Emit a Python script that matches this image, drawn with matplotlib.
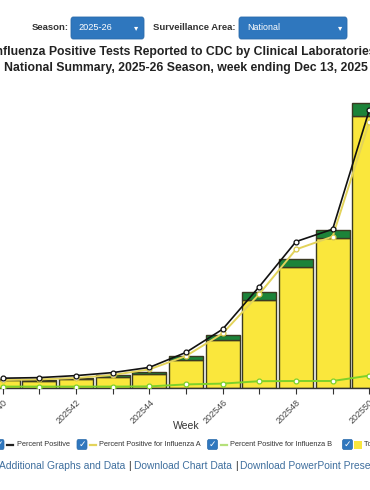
import matplotlib
matplotlib.use("Agg")
import matplotlib.pyplot as plt
from matplotlib.patches import FancyBboxPatch, Rectangle
from matplotlib.lines import Line2D

# ---------------- data ----------------
weeks = [40, 41, 42, 43, 44, 45, 46, 47, 48, 49, 50]
week_labels = ["202540", "", "202542", "", "202544", "", "202546", "", "202548", "", "202550"]
flu_a_pos = [640, 520, 680, 880, 1090, 2240, 3840, 7040, 9700, 12000, 21760]
flu_b_pos = [90, 80, 90, 120, 210, 320, 400, 620, 620, 660, 1060]
pct_positive = [0.49, 0.52, 0.62, 0.77, 1.03, 1.78, 2.94, 5.07, 7.32, 7.94, 13.9]
pct_flu_a = [0.40, 0.43, 0.50, 0.65, 0.93, 1.60, 2.73, 4.70, 6.93, 7.57, 13.3]
pct_flu_b = [0.07, 0.07, 0.07, 0.07, 0.08, 0.18, 0.22, 0.34, 0.35, 0.35, 0.62]

W, H = 370, 490
fig = plt.figure(figsize=(W / 100, H / 100), dpi=100)
fig.patch.set_facecolor("white")
FONT = ["Liberation Sans", "DejaVu Sans"]

def fx(px):
    return px / W

def fy(py):
    return 1 - py / H

# ---------------- axes ----------------
base_px, top_px = 388, 90
ax = fig.add_axes([0, fy(base_px), 1, (base_px - top_px) / H])
x0 = 40 - 2.7 / 36.66
ax.set_xlim(x0, x0 + W / 36.66)
ax.set_ylim(0, (base_px - top_px) * 80)

ax.bar(weeks, flu_a_pos, width=0.92, color="#FAE73C", edgecolor="#3b3a22", linewidth=1.0, zorder=2)
ax.bar(weeks, flu_b_pos, width=0.92, bottom=flu_a_pos, color="#1C8339", edgecolor="#3b3a22",
       linewidth=1.0, zorder=2)

for s in ["left", "right", "top"]:
    ax.spines[s].set_visible(False)
ax.spines["bottom"].set_color("#333333")
ax.spines["bottom"].set_linewidth(1.0)
ax.set_yticks([])
ax.set_xticks(weeks)
ax.set_xticklabels(week_labels, rotation=45, ha="right", va="top", rotation_mode="anchor",
                   fontsize=6.5, color="#444444", family=FONT)
ax.tick_params(axis="x", length=4, width=0.8, color="#333333", pad=3)

ax2 = ax.twinx()
ax2.set_position(ax.get_position())
ax2.set_ylim(0, (base_px - top_px) * 0.05)
ax2.set_yticks([])
for s in ["left", "right", "top", "bottom"]:
    ax2.spines[s].set_visible(False)

ax2.plot(weeks, pct_flu_b, color="#7ED12A", lw=1.4, marker="o", ms=3.5, mfc="white", mec="#7ED12A",
         mew=0.9, zorder=3)
ax2.plot(weeks, pct_flu_a, color="#E3D35A", lw=1.4, marker="o", ms=3.5, mfc="white", mec="#D8C84A",
         mew=0.9, zorder=4)
ax2.plot(weeks, pct_positive, color="#111111", lw=1.2, marker="o", ms=3.5, mfc="white", mec="#111111",
         mew=0.9, zorder=5)

# ---------------- header controls ----------------
fig.text(fx(68.5), fy(28), "Season:", ha="right", va="center", fontsize=6.8, weight="bold",
         color="#333333", family=FONT)
fig.patches.append(FancyBboxPatch((fx(71), fy(39)), fx(73), (39 - 17) / H,
                                  boxstyle="round,pad=0,rounding_size=0.006",
                                  transform=fig.transFigure, facecolor="#2F77BE", edgecolor="#2A6AAA",
                                  lw=0.6))
fig.text(fx(78.5), fy(28), "2025-26", ha="left", va="center", fontsize=6.6, color="white", family=FONT)
fig.text(fx(136.5), fy(28), "\u25BE", ha="center", va="center", fontsize=6, color="white",
         family=["DejaVu Sans"])

fig.text(fx(235.5), fy(28), "Surveillance Area:", ha="right", va="center", fontsize=6.8, weight="bold",
         color="#333333", family=FONT)
fig.patches.append(FancyBboxPatch((fx(239), fy(39)), fx(108), (39 - 17) / H,
                                  boxstyle="round,pad=0,rounding_size=0.006",
                                  transform=fig.transFigure, facecolor="#2F77BE", edgecolor="#2A6AAA",
                                  lw=0.6))
fig.text(fx(247), fy(28), "National", ha="left", va="center", fontsize=6.4, color="white", family=FONT)
fig.text(fx(340), fy(28), "\u25BE", ha="center", va="center", fontsize=6, color="white",
         family=["DejaVu Sans"])

# ---------------- title ----------------
fig.text(fx(185.5), fy(52), "Influenza Positive Tests Reported to CDC by Clinical Laboratories,",
         ha="center", va="center", fontsize=8.8, weight="bold", color="#222222", family=FONT)
fig.text(fx(185.5), fy(68.5), "National Summary, 2025-26 Season, week ending Dec 13, 2025",
         ha="center", va="center", fontsize=8.8, weight="bold", color="#222222", family=FONT)

# ---------------- x label ----------------
fig.text(fx(186), fy(426), "Week", ha="center", va="center", fontsize=7.5, color="#333333", family=FONT)

# ---------------- legend row ----------------
ly = 444.5

def checkbox(xpx):
    fig.patches.append(FancyBboxPatch((fx(xpx), fy(ly + 5)), fx(10), 10 / H,
                                      boxstyle="round,pad=0,rounding_size=0.004",
                                      transform=fig.transFigure, facecolor="#2F77BE",
                                      edgecolor="#2A6AAA", lw=0.5))
    fig.text(fx(xpx + 5), fy(ly), "\u2713", ha="center", va="center", fontsize=6.5, color="white",
             weight="bold", family=["DejaVu Sans"])

def dash(xpx, color):
    fig.lines.append(Line2D([fx(xpx), fx(xpx + 6)], [fy(ly), fy(ly)], transform=fig.transFigure,
                            color=color, lw=1.6))

checkbox(-6)
dash(7, "#222222")
fig.text(fx(17), fy(ly), "Percent Positive", ha="left", va="center", fontsize=5.3, color="#333333",
         family=FONT)
checkbox(77)
dash(90, "#E3D35A")
fig.text(fx(99), fy(ly), "Percent Positive for Influenza A", ha="left", va="center", fontsize=5.3,
         color="#333333", family=FONT)
checkbox(207.5)
dash(220.5, "#B5E07A")
fig.text(fx(230), fy(ly), "Percent Positive for Influenza B", ha="left", va="center", fontsize=5.3,
         color="#333333", family=FONT)
checkbox(342.5)
fig.patches.append(Rectangle((fx(354), fy(ly + 4)), fx(8), 8 / H, transform=fig.transFigure,
                             facecolor="#F9E63E", edgecolor="none"))
fig.text(fx(363.5), fy(ly), "Total Influenza A", ha="left", va="center", fontsize=5.3, color="#333333",
         family=FONT)

# ---------------- links row ----------------
link_c = "#3F6F9E"
LS = 7.4
t = fig.text(fx(-1), fy(466), "Additional Graphs and Data", ha="left", va="center", fontsize=LS,
             color=link_c, family=FONT)
fig.canvas.draw()
r = fig.canvas.get_renderer()

def after(prev, s, color):
    bb = prev.get_window_extent(renderer=r)
    return fig.text(fx(bb.x1 + 3), fy(466), s, ha="left", va="center", fontsize=LS, color=color,
                    family=FONT)

p1 = after(t, "|", "#333333")
t2 = after(p1, "Download Chart Data", link_c)
p2 = after(t2, "|", "#333333")
t3 = after(p2, "Download PowerPoint Presentation", link_c)

fig.savefig("out.png", dpi=100, facecolor="white")
